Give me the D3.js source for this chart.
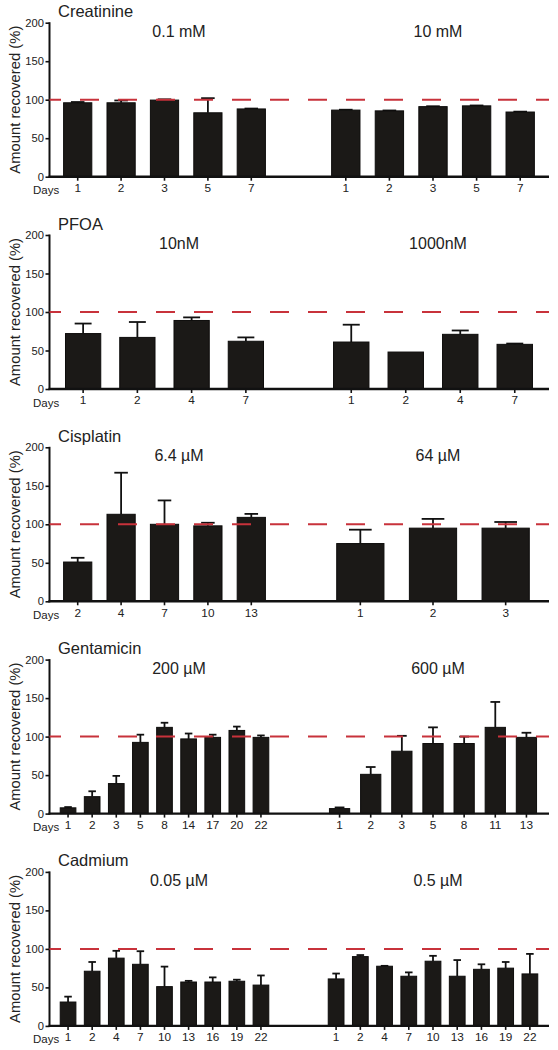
<!DOCTYPE html>
<html>
<head>
<meta charset="utf-8">
<script src="https://cdn.jsdelivr.net/npm/d3@7/dist/d3.min.js"></script>
<style>
  html, body { margin: 0; padding: 0; background: #fff; }
  svg { display: block; }
  text { font-family: "Liberation Sans", Arial, Helvetica, sans-serif; fill: #222; }
</style>
</head>
<body>
<svg id="chart" width="558" height="1050"></svg>
<script>
// ---------- DATA ----------
const compounds = ["Creatinine", "PFOA", "Cisplatin", "Gentamicin", "Cadmium"];
const concLow  = ["0.1 mM", "10nM", "6.4 µM", "200 µM", "0.05 µM"];
const concHigh = ["10 mM", "1000nM", "64 µM", "600 µM", "0.5 µM"];
const yTicks = [0, 50, 100, 150, 200];
const referenceLevel = 100;

// Creatinine
const creatinineDaysLow  = ["1", "2", "3", "5", "7"];
const creatinineMeanLow  = [96, 96, 99.5, 83, 88];
const creatinineErrLow   = [1, 3, 1, 19, 0.5];
const creatinineDaysHigh = ["1", "2", "3", "5", "7"];
const creatinineMeanHigh = [86.5, 85.5, 91, 92, 84];
const creatinineErrHigh  = [0.5, 0.5, 0.5, 0.5, 0.5];

// PFOA
const pfoaDaysLow  = ["1", "2", "4", "7"];
const pfoaMeanLow  = [72, 67, 89, 62];
const pfoaErrLow   = [13, 20, 4, 5];
const pfoaDaysHigh = ["1", "2", "4", "7"];
const pfoaMeanHigh = [61, 48, 71, 58];
const pfoaErrHigh  = [22.5, 0, 5, 1];

// Cisplatin
const cisplatinDaysLow  = ["2", "4", "7", "10", "13"];
const cisplatinMeanLow  = [51, 113, 100, 98, 109];
const cisplatinErrLow   = [5.5, 54, 31, 4, 4.5];
const cisplatinDaysHigh = ["1", "2", "3"];
const cisplatinMeanHigh = [75, 95, 95];
const cisplatinErrHigh  = [18, 12, 8];

// Gentamicin
const gentamicinDaysLow  = ["1", "2", "3", "5", "8", "14", "17", "20", "22"];
const gentamicinMeanLow  = [7.5, 22, 39, 92.5, 112, 97, 99, 108, 99];
const gentamicinErrLow   = [1, 7, 10, 10, 6, 7, 3.5, 5, 2.5];
const gentamicinDaysHigh = ["1", "2", "3", "5", "8", "11", "13"];
const gentamicinMeanHigh = [6.5, 51, 81, 91, 91, 112, 99];
const gentamicinErrHigh  = [1.5, 9.5, 20, 21, 9, 33, 6];

// Cadmium
const cadmiumDaysLow  = ["1", "2", "4", "7", "10", "13", "16", "19", "22"];
const cadmiumMeanLow  = [31, 71, 88, 80, 51, 57, 57, 58, 53];
const cadmiumErrLow   = [7, 12, 9.5, 17, 26, 1.5, 6, 2, 12.5];
const cadmiumDaysHigh = ["1", "2", "4", "7", "10", "13", "16", "19", "22"];
const cadmiumMeanHigh = [61, 90, 77.5, 64.5, 84, 64.5, 73.5, 75, 67.5];
const cadmiumErrHigh  = [7, 2, 0.5, 5, 7, 21, 6.5, 8, 26];

// table built from the arrays
const groupsLow = [
  [creatinineDaysLow, creatinineMeanLow, creatinineErrLow],
  [pfoaDaysLow, pfoaMeanLow, pfoaErrLow],
  [cisplatinDaysLow, cisplatinMeanLow, cisplatinErrLow],
  [gentamicinDaysLow, gentamicinMeanLow, gentamicinErrLow],
  [cadmiumDaysLow, cadmiumMeanLow, cadmiumErrLow]
];
const groupsHigh = [
  [creatinineDaysHigh, creatinineMeanHigh, creatinineErrHigh],
  [pfoaDaysHigh, pfoaMeanHigh, pfoaErrHigh],
  [cisplatinDaysHigh, cisplatinMeanHigh, cisplatinErrHigh],
  [gentamicinDaysHigh, gentamicinMeanHigh, gentamicinErrHigh],
  [cadmiumDaysHigh, cadmiumMeanHigh, cadmiumErrHigh]
];

// ---------- LAYOUT ----------
const svg = d3.select("#chart");
const axisX = 49.5;
const axisEnd = 549;
const panelTop0 = 22.7;
const panelStep = 212.3;
const plotH = 154;
const leftRange = [56, 273];
const rightRange = [324, 542];
const barColor = "#1b1917";
const dashColor = "#c8323b";

compounds.forEach((name, i) => {
  const top = panelTop0 + i * panelStep;
  const g = svg.append("g");
  const y = d3.scaleLinear().domain([0, 200]).range([top + plotH, top]);

  // titles
  g.append("text").attr("x", 58).attr("y", top - 5.5)
    .attr("font-size", 16.5).text(name);

  // y axis title
  g.append("text")
    .attr("transform", `translate(20,${top + plotH / 2}) rotate(-90)`)
    .attr("text-anchor", "middle").attr("font-size", 14.8)
    .text("Amount recovered (%)");

  // y axis
  const yAxis = g.append("g").attr("transform", `translate(${axisX},0)`)
    .call(d3.axisLeft(y).tickValues(yTicks).tickSize(4).tickPadding(1.5).tickFormat(d3.format("d")));
  yAxis.select(".domain").remove();
  yAxis.selectAll(".tick line").attr("stroke", "#111").attr("stroke-width", 1.6);
  yAxis.selectAll(".tick text").attr("font-size", 11.2).attr("font-family", "Liberation Sans, Arial, sans-serif").attr("fill", "#222");
  g.append("line").attr("x1", axisX).attr("x2", axisX)
    .attr("y1", y(200) - 0.5).attr("y2", y(0) + 1)
    .attr("stroke", "#111").attr("stroke-width", 2);

  const groups = [
    { data: groupsLow[i], range: leftRange, label: concLow[i] },
    { data: groupsHigh[i], range: rightRange, label: concHigh[i] }
  ];

  groups.forEach((grp, gi) => {
    const [days, means, errs] = grp.data;
    const rows = days.map((d, k) => ({ day: d, mean: means[k], err: errs[k], key: d + "_" + k }));
    const x = d3.scaleBand().domain(rows.map(r => r.key)).range(grp.range)
      .paddingInner(0.35).paddingOuter(0.175);
    const bw = x.bandwidth();

    // concentration label
    g.append("text")
      .attr("x", gi === 0 ? 179 : 438).attr("y", top + 14)
      .attr("text-anchor", "middle").attr("font-size", 16).text(grp.label);

    // error bars (upper only)
    rows.forEach(r => {
      if (r.err > 0) {
        const cx = x(r.key) + bw / 2;
        g.append("line").attr("x1", cx).attr("x2", cx)
          .attr("y1", y(r.mean)).attr("y2", y(r.mean + r.err))
          .attr("stroke", "#111").attr("stroke-width", 1.8);
        g.append("line").attr("x1", cx - bw * 0.24).attr("x2", cx + bw * 0.24)
          .attr("y1", y(r.mean + r.err)).attr("y2", y(r.mean + r.err))
          .attr("stroke", "#111").attr("stroke-width", 1.8);
      }
    });

    // bars
    g.selectAll(null).data(rows).enter().append("rect")
      .attr("x", r => x(r.key)).attr("width", bw)
      .attr("y", r => y(r.mean)).attr("height", r => y(0) - y(r.mean))
      .attr("fill", barColor).attr("stroke", "#0d0c0b").attr("stroke-width", 1);

    // x axis ticks/labels
    const xAxis = g.append("g").attr("transform", `translate(0,${y(0)})`)
      .call(d3.axisBottom(x).tickSize(4).tickPadding(3).tickFormat(k => k.split("_")[0]));
    xAxis.select(".domain").remove();
    xAxis.selectAll(".tick line").attr("stroke", "#111").attr("stroke-width", 1.6);
    xAxis.selectAll(".tick text").attr("font-size", 11.8).attr("font-family", "Liberation Sans, Arial, sans-serif").attr("fill", "#222");
  });

  // x axis baseline
  g.append("line").attr("x1", axisX - 1).attr("x2", axisEnd)
    .attr("y1", y(0)).attr("y2", y(0))
    .attr("stroke", "#111").attr("stroke-width", 2.4);

  // Days label
  g.append("text").attr("x", 33).attr("y", y(0) + 17.5)
    .attr("font-size", 11.5).text("Days");

  // reference dashed line
  g.append("line").attr("x1", axisX).attr("x2", axisEnd)
    .attr("y1", y(referenceLevel)).attr("y2", y(referenceLevel))
    .attr("stroke", dashColor).attr("stroke-width", 2)
    .attr("stroke-dasharray", "19,19").attr("stroke-dashoffset", 7.5);
});
</script>
</body>
</html>
